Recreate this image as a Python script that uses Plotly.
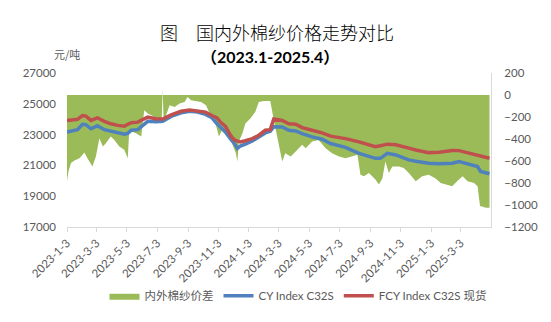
import plotly.graph_objects as go

# ---- data -------------------------------------------------------------
line_dates = [
    "2023-01-03", "2023-01-24", "2023-02-03", "2023-02-10", "2023-02-20",
    "2023-03-05", "2023-03-19", "2023-04-01", "2023-04-15", "2023-04-28",
    "2023-05-05", "2023-05-12", "2023-05-25", "2023-06-04", "2023-06-14",
    "2023-07-01", "2023-07-14", "2023-07-31", "2023-08-20", "2023-09-06",
    "2023-09-22", "2023-10-08", "2023-10-21", "2023-10-31", "2023-11-07",
    "2023-11-17", "2023-11-27", "2023-12-04", "2023-12-11", "2023-12-17",
    "2023-12-27", "2024-01-10", "2024-01-23", "2024-02-05", "2024-02-15",
    "2024-02-22", "2024-03-10", "2024-03-23", "2024-04-06", "2024-04-19",
    "2024-05-09", "2024-05-29", "2024-06-15", "2024-07-02", "2024-07-15",
    "2024-08-11", "2024-09-13", "2024-09-23", "2024-10-07", "2024-10-24",
    "2024-11-06", "2024-11-19", "2024-12-03", "2024-12-16", "2024-12-29",
    "2025-01-19", "2025-02-14", "2025-02-28", "2025-03-20", "2025-04-06",
    "2025-04-12", "2025-04-30",
]

cy_index = [
    23170, 23320, 23670, 23640, 23380,
    23580, 23320, 23240, 23110, 23030,
    23080, 23280, 23320, 23600, 23860,
    23830, 23860, 24180, 24410, 24520,
    24460, 24310, 24090, 23700, 23490,
    23170, 22740, 22470, 22100, 22260,
    22380, 22580, 22850, 23110, 23220,
    23510, 23490, 23280, 23240, 23060,
    22850, 22700, 22420, 22280, 22170,
    21780, 21460, 21460, 21780, 21680,
    21540, 21360, 21270, 21190, 21140,
    21100, 21140, 21250, 21100, 20930,
    20610, 20460,
]

fcy_index = [
    23920, 23990, 24240, 24200, 23920,
    24090, 23860, 23700, 23600, 23540,
    23670, 23770, 23810, 23990, 24130,
    24030, 24010, 24280, 24520, 24600,
    24520, 24460, 24240, 24090, 23810,
    23540, 22960, 22680, 22580, 22530,
    22600, 22740, 22960, 23280, 23320,
    24010, 23920, 23700, 23670, 23450,
    23280, 23110, 22900, 22810, 22740,
    22530, 22210, 22280, 22380, 22340,
    22210, 22120, 22000, 21910, 21830,
    21860, 21970, 21960, 21780, 21680,
    21600, 21460,
]

spread_dates = [
    "2023-01-03", "2023-01-06", "2023-01-11", "2023-01-18", "2023-01-28",
    "2023-02-07", "2023-02-13", "2023-02-23", "2023-03-02", "2023-03-09",
    "2023-03-16", "2023-03-22", "2023-04-01", "2023-04-08", "2023-04-18",
    "2023-04-28", "2023-05-05", "2023-05-08", "2023-05-22", "2023-06-01",
    "2023-06-07", "2023-06-14", "2023-06-27", "2023-07-07", "2023-07-12",
    "2023-07-14", "2023-07-16", "2023-07-21", "2023-07-28", "2023-08-07",
    "2023-08-17", "2023-08-27", "2023-09-02", "2023-09-09", "2023-09-19",
    "2023-09-29", "2023-10-09", "2023-10-18", "2023-10-28", "2023-11-04",
    "2023-11-10", "2023-11-20", "2023-11-30", "2023-12-08", "2023-12-11",
    "2023-12-14", "2023-12-21", "2023-12-27", "2024-01-06", "2024-01-16",
    "2024-01-23", "2024-02-02", "2024-02-15", "2024-02-22", "2024-02-29",
    "2024-03-10", "2024-03-16", "2024-03-27", "2024-04-06", "2024-04-19",
    "2024-04-26", "2024-05-09", "2024-05-22", "2024-06-05", "2024-06-18",
    "2024-07-02", "2024-07-15", "2024-07-29", "2024-08-08", "2024-08-14",
    "2024-08-21", "2024-08-31", "2024-09-13", "2024-09-20", "2024-09-27",
    "2024-10-03", "2024-10-10", "2024-10-17", "2024-10-30", "2024-11-09",
    "2024-11-19", "2024-12-03", "2024-12-16", "2024-12-29", "2025-01-12",
    "2025-01-22", "2025-02-01", "2025-02-14", "2025-02-24", "2025-03-07",
    "2025-03-17", "2025-03-30", "2025-04-06", "2025-04-11", "2025-04-23",
    "2025-04-30",
]

spread_values = [
    -784, -694, -619, -595, -574,
    -523, -574, -649, -559, -394,
    -469, -439, -378, -408, -469,
    -498, -574, -318, -349, -378,
    -138, -168, -198, -213, -243,
    50, -243, -183, -93, -108,
    -78, -63, -18, -48, -54,
    -63, -93, -183, -258, -378,
    -318, -378, -439, -530, -604,
    -423, -349, -258, -213, -153,
    -63, -54, -54, -228, -378,
    -604, -529, -559, -514, -453,
    -484, -423, -408, -484, -529,
    -559, -574, -559, -544, -724,
    -739, -709, -769, -814, -760,
    -604, -709, -649, -649, -664,
    -709, -784, -739, -724, -760,
    -799, -814, -829, -784, -739,
    -784, -799, -829, -1009, -1024,
    -1024,
]

tick_dates = [
    "2023-01-03", "2023-03-03", "2023-05-03", "2023-07-03", "2023-09-03",
    "2023-11-03", "2024-01-03", "2024-03-03", "2024-05-03", "2024-07-03",
    "2024-09-03", "2024-11-03", "2025-01-03", "2025-03-03",
]
tick_labels = [
    "2023-1-3", "2023-3-3", "2023-5-3", "2023-7-3", "2023-9-3",
    "2023-11-3", "2024-1-3", "2024-3-3", "2024-5-3", "2024-7-3",
    "2024-9-3", "2024-11-3", "2025-1-3", "2025-3-3",
]

# ---- style -------------------------------------------------------------
GREEN = "#9BBB59"
BLUE = "#4F81BD"
RED = "#C0504D"
AXIS_GREY = "#D9D9D9"
TEXT_GREY = "#595959"
FONT = "Lato, 'Noto Sans CJK SC', sans-serif"
CJK = "'Noto Sans CJK SC', sans-serif"

W, H = 551, 322
L, R, T, B = 67, 60, 73, 92
PW, PH = W - L - R, H - T - B


def px_x(p):
    return (p - L) / PW


def px_y(p):
    return (H - B - p) / PH


fig = go.Figure()

# spread area on the right-hand axis (drawn underneath)
fig.add_trace(go.Scatter(
    x=spread_dates, y=spread_values, name="内外棉纱价差",
    mode="lines", line=dict(width=0, color=GREEN),
    fill="tozeroy", fillcolor=GREEN, yaxis="y",
))
# price indices on the left-hand axis (overlaid on top)
fig.add_trace(go.Scatter(
    x=line_dates, y=cy_index, name="CY Index C32S",
    mode="lines", line=dict(color=BLUE, width=3.5), yaxis="y2",
))
fig.add_trace(go.Scatter(
    x=line_dates, y=fcy_index, name="FCY Index C32S 现货",
    mode="lines", line=dict(color=RED, width=3.5), yaxis="y2",
))

tickfont = dict(family=FONT, size=11.5, color=TEXT_GREY)

fig.update_layout(
    width=W, height=H,
    margin=dict(l=L, r=R, t=T, b=B),
    paper_bgcolor="white", plot_bgcolor="white",
    font=dict(family=FONT, color=TEXT_GREY),
    showlegend=True,
    legend=dict(
        orientation="h", x=px_x(298), xanchor="center",
        y=px_y(300), yanchor="middle",
        font=dict(family=FONT, size=11.5, color=TEXT_GREY),
        bgcolor="rgba(0,0,0,0)", tracegroupgap=0,
    ),
    xaxis=dict(
        type="date", range=["2023-01-03", "2025-05-03"],
        tickmode="array", tickvals=tick_dates, ticktext=tick_labels,
        tickangle=-45, tickfont=tickfont,
        showline=True, linecolor=AXIS_GREY, linewidth=1,
        ticks="outside", ticklen=4, tickcolor=AXIS_GREY,
        showgrid=False, zeroline=False,
    ),
    yaxis=dict(
        side="right", range=[-1200, 200], tick0=0, dtick=200,
        tickfont=tickfont, showline=True, linecolor=AXIS_GREY,
        showgrid=False, zeroline=False, ticklabelstandoff=10,
    ),
    yaxis2=dict(
        overlaying="y", side="left", range=[17000, 27000],
        tick0=17000, dtick=2000, tickformat="d", tickfont=tickfont,
        showline=False, showgrid=False, zeroline=False,
        ticklabelstandoff=10,
    ),
    annotations=[
        dict(text="图", x=px_x(158), y=px_y(16), xref="paper", yref="paper",
             showarrow=False,
             font=dict(family=CJK, size=18, color="black", weight=300)),
        dict(text="国内外棉纱价格走势对比", x=px_x(295), y=px_y(16),
             xref="paper", yref="paper", showarrow=False,
             font=dict(family=CJK, size=18, color="black", weight=300)),
        dict(text="<b>（2023.1-2025.4）</b>", x=px_x(270), y=px_y(44),
             xref="paper", yref="paper", showarrow=False,
             font=dict(family=FONT, size=16, color="black")),
        dict(text="元/吨", x=px_x(52), y=px_y(43), xref="paper", yref="paper",
             showarrow=False, font=dict(family=CJK, size=11, color=TEXT_GREY)),
    ],
)

fig.write_html("out.html")
